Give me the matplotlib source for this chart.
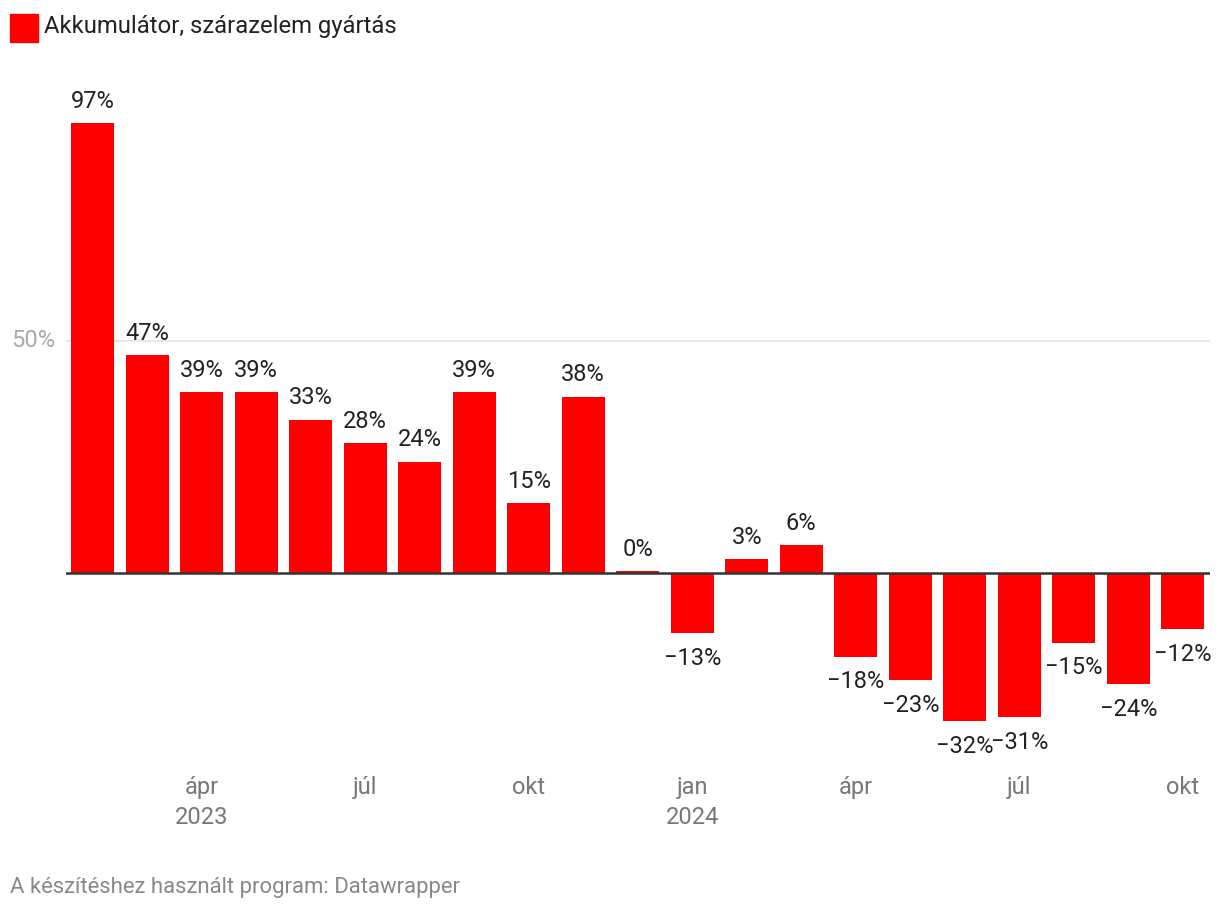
import numpy as np
import matplotlib.pyplot as plt
import matplotlib

matplotlib.rcParams['font.family'] = ['Roboto', 'DejaVu Sans']

# monthly change, Feb 2023 .. Oct 2024
months = ['feb', 'márc', 'ápr', 'máj', 'jún', 'júl', 'aug', 'szept', 'okt', 'nov', 'dec',
          'jan', 'feb', 'márc', 'ápr', 'máj', 'jún', 'júl', 'aug', 'szept', 'okt']
values = [97, 47, 39, 39, 33, 28, 24, 39, 15, 38, 0.4,
          -13, 3, 6, -18, -23, -32, -31, -15, -24, -12]
tick_pos = [2, 5, 8, 11, 14, 17, 20]
tick_labels = ['ápr\n2023', 'júl', 'okt', 'jan\n2024', 'ápr', 'júl', 'okt']
series_name = 'Akkumulátor, szárazelem gyártás'

W, H = 1220, 914
fig = plt.figure(figsize=(W / 100, H / 100), dpi=100)

# axes placed in pixel coords: x from 65.5 to 1210, zero at y=573, 50% at y=341
ax_left, ax_right = 65.5, 1210
ax_top, ax_bot = 100, 750
ax = fig.add_axes([ax_left / W, 1 - ax_bot / H, (ax_right - ax_left) / W, (ax_bot - ax_top) / H])
px_per = (573 - 341) / 50
ax.set_ylim(-(ax_bot - 573) / px_per, (573 - ax_top) / px_per)
ax.set_xlim(-0.5, len(values) - 0.5)

red = '#ff0000'
x = np.arange(len(values))
ax.bar(x, values, width=0.785, color=red, zorder=2)

ax.axhline(50, color='#e3e3e3', lw=1.2, zorder=1)
ax.axhline(0, color='#333333', lw=1.8, zorder=3)

FS = 17
for i, v in enumerate(values):
    lab = f'{round(v)}%'.replace('-', '\u2212')
    if v >= 0:
        ax.annotate(lab, (i, v), xytext=(0, 7.5), textcoords='offset points',
                    ha='center', va='bottom', fontsize=FS, color='#222222')
    else:
        ax.annotate(lab, (i, v), xytext=(0, -10), textcoords='offset points',
                    ha='center', va='top', fontsize=FS, color='#222222')

for s in ax.spines.values():
    s.set_visible(False)
ax.set_yticks([])
ax.set_xticks(tick_pos)
ax.set_xticklabels(tick_labels, fontsize=FS, color='#777777', linespacing=1.38, va='top')
ax.tick_params(axis='x', length=0, pad=(786 - 750 - 10) * 0.72)

fig.text(55 / W, 1 - 341 / H, '50%', ha='right', va='center', fontsize=FS, color='#aaaaaa')

# legend
fig.patches.append(matplotlib.patches.Rectangle((10 / W, 1 - 42 / H), 28 / W, 28 / H,
                                                transform=fig.transFigure, color=red))
fig.text(44 / W, 1 - 27 / H, series_name, ha='left', va='center', fontsize=17.2, color='#222222')

fig.text(10 / W, 1 - 887 / H, 'A készítéshez használt program: Datawrapper',
         ha='left', va='center', fontsize=15.9, color='#888888')

fig.savefig('out.png', dpi=100)
